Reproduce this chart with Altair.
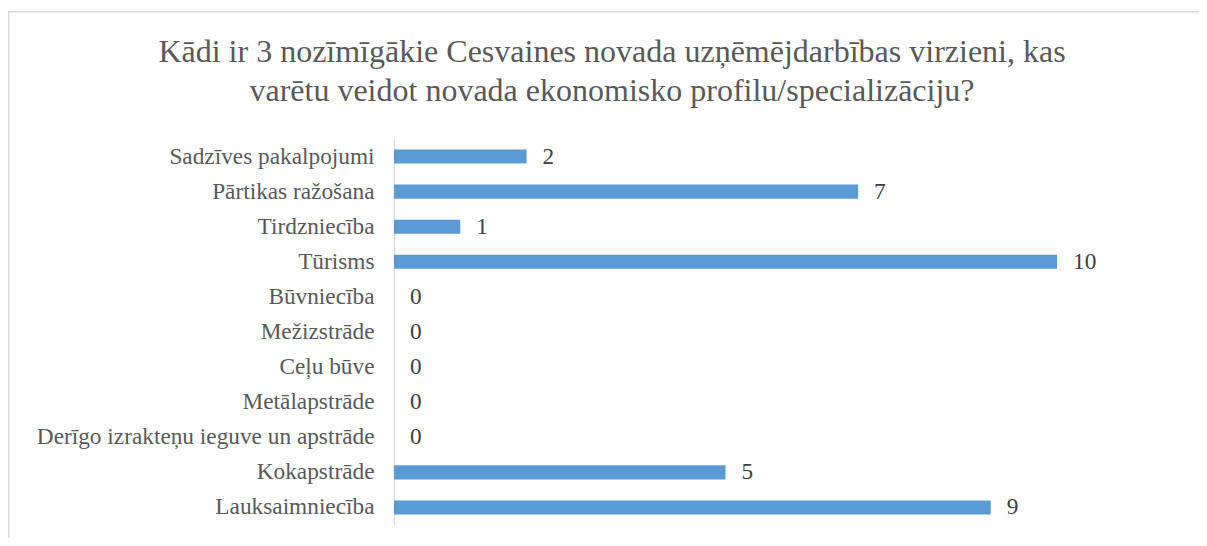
import altair as alt
import pandas as pd

categories = ["Sadzīves pakalpojumi", "Pārtikas ražošana", "Tirdzniecība", "Tūrisms",
              "Būvniecība", "Mežizstrāde", "Ceļu būve", "Metālapstrāde",
              "Derīgo izrakteņu ieguve un apstrāde", "Kokapstrāde", "Lauksaimniecība"]
values = [2, 7, 1, 10, 0, 0, 0, 0, 0, 5, 9]
title_line1 = "Kādi ir 3 nozīmīgākie Cesvaines novada uzņēmējdarbības virzieni, kas"
title_line2 = "varētu veidot novada ekonomisko profilu/specializāciju?"

df = pd.DataFrame({"cat": categories, "val": values})

FONT = "Liberation Serif"
W, H = 663, 386

y_enc = alt.Y("cat:N", sort=categories,
              scale=alt.Scale(paddingInner=0.6, paddingOuter=0.3),
              axis=alt.Axis(title=None, ticks=False, labelFont=FONT, labelFontSize=23.3,
                            labelColor="#595959", labelPadding=20, domainColor="#d9d9d9",
                            domainWidth=1.3, grid=False, labelLimit=500))
x_enc = alt.X("val:Q", scale=alt.Scale(domain=[0, 10], nice=False), axis=None)

bars = alt.Chart(df).mark_bar(color="#5B9BD5").encode(x=x_enc, y=y_enc)
labels = alt.Chart(df).mark_text(align="left", baseline="middle", dx=16, font=FONT,
                                 fontSize=23.3, color="#404040", clip=False).encode(
    x=x_enc, y=y_enc, text="val:Q")

border = alt.Chart(pd.DataFrame({"a": [0]})).mark_rect(
    fill=None, stroke="#d9d9d9", strokeWidth=1.5, clip=False).encode(
    x=alt.value(-385.3), x2=alt.value(2000), y=alt.value(-127.2), y2=alt.value(1000))


def title_text(line, ypos):
    return alt.Chart(pd.DataFrame({"t": [line]})).mark_text(
        align="center", baseline="alphabetic", font=FONT, fontSize=32,
        color="#595959", clip=False).encode(
        x=alt.value(218), y=alt.value(ypos), text="t:N")


chart = alt.layer(border, bars, labels,
                  title_text(title_line1, -77), title_text(title_line2, -38)).properties(
    width=W, height=H,
    background="white",
    autosize=alt.AutoSizeParams(type="none"),
    padding={"left": 386, "top": 131, "right": 142, "bottom": 13},
).configure_view(strokeWidth=0)

chart.save("out.html", embed_options={"renderer": "svg", "actions": False})
